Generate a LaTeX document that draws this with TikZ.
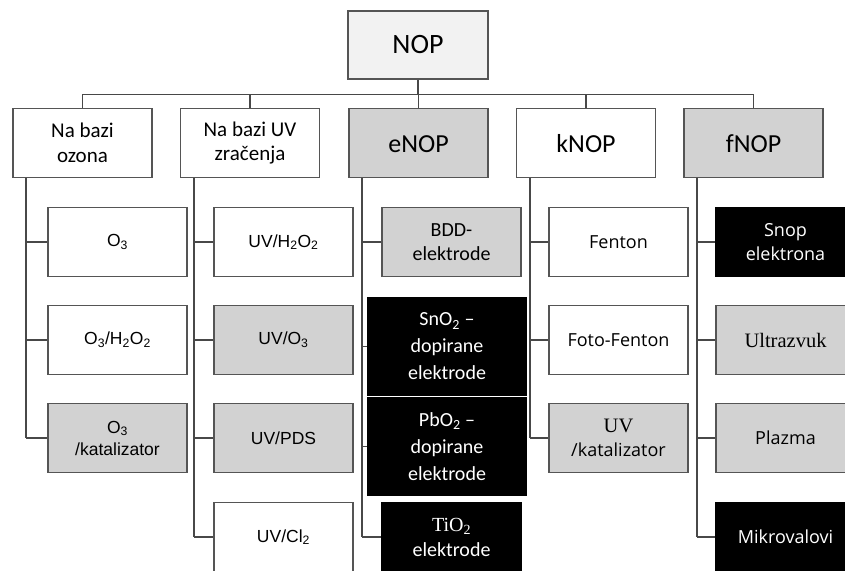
\documentclass[tikz,border=0pt]{standalone}
\usepackage{fontspec}
\setmainfont{Carlito}
\newfontfamily\fcal{Carlito}
\newfontfamily\fars{Liberation Sans}
\newfontfamily\fops{Open Sans}
\newfontfamily\ftms{Liberation Serif}
\definecolor{bord}{HTML}{555555}
\definecolor{lgray}{HTML}{F2F2F2}
\definecolor{mgray}{HTML}{D2D2D2}
\begin{document}
\begin{tikzpicture}[x=1pt,y=-1pt,
  box/.style={draw=bord,line width=1.6pt,minimum width=139pt,minimum height=69pt,inner sep=1pt,align=center,fill=white,text=black},
  gbox/.style={box,fill=mgray},
  bbox/.style={box,fill=black,draw=black,text=white},
  conn/.style={draw=bord!85!black,line width=1.6pt}]
\clip (0,0) rectangle (845,570);
\fill[white] (0,0) rectangle (845,570);
% top
\node[box,fill=lgray,minimum width=140pt,minimum height=68pt,font=\fcal\fontsize{28}{32}\selectfont] (nop) at (418,45) {NOP};
% level 1
\begin{scope}[every node/.append style={font=\fcal\fontsize{21}{24.5}\selectfont}]
\node[box] (a) at (82.5,143) {Na bazi\\ozona};
\node[box] (b) at (250,143) {Na bazi UV\\zračenja};
\end{scope}
\begin{scope}[every node/.append style={font=\fcal\fontsize{26}{30}\selectfont,text height=18pt,text depth=0pt}]
\node[gbox] (c) at (418.5,143) {eNOP};
\node[box] (d) at (586,143) {kNOP};
\node[gbox] (e) at (753.5,143) {fNOP};
\end{scope}
% column 1
\begin{scope}[every node/.append style={font=\fars\fontsize{17.5}{22}\selectfont}]
\node[box] (a1) at (117.5,242) {O\textsubscript{3}};
\node[box] (a2) at (117.5,340) {O\textsubscript{3}/H\textsubscript{2}O\textsubscript{2}};
\node[gbox] (a3) at (117.5,438) {O\textsubscript{3}\\/katalizator};
% column 2
\node[box] (b1) at (283.5,242) {UV/H\textsubscript{2}O\textsubscript{2}};
\node[gbox] (b2) at (283.5,340) {UV/O\textsubscript{3}};
\node[gbox] (b3) at (283.5,438) {UV/PDS};
\node[box] (b4) at (283.5,537) {UV/Cl\textsubscript{2}};
\end{scope}
% column 3
\begin{scope}[every node/.append style={font=\fcal\fontsize{20}{27}\selectfont}]
\node[gbox,font=\fcal\fontsize{20}{23.5}\selectfont] (c1) at (451.5,242) {BDD-\\elektrode};
\node[bbox,minimum width=158pt,minimum height=98pt] (c2) at (447,346.5) {SnO\textsubscript{2} –\\dopirane\\elektrode};
\node[bbox,minimum width=158pt,minimum height=98pt] (c3) at (447,446.5) {PbO\textsubscript{2} –\\dopirane\\elektrode};
\node[bbox,font=\fcal\fontsize{20}{25}\selectfont] (c4) at (451.5,537) {{\ftms TiO\textsubscript{2}}\\elektrode};
\end{scope}
% column 4
\begin{scope}[every node/.append style={font=\fops\fontsize{18}{24}\selectfont}]
\node[box] (d1) at (618.5,242) {Fenton};
\node[box] (d2) at (618.5,340) {Foto-Fenton};
\node[gbox] (d3) at (618.5,438) {{\ftms\fontsize{20.5}{24}\selectfont UV}\\/katalizator};
% column 5
\node[bbox] (e1) at (785.5,242) {Snop\\elektrona};
\node[gbox,font=\ftms\fontsize{20.5}{24}\selectfont] (e2) at (785.5,340) {Ultrazvuk};
\node[gbox] (e3) at (785.5,438) {Plazma};
\node[bbox] (e4) at (785.5,537) {Mikrovalovi};
\end{scope}
% top connectors
\coordinate (h) at (0,94.5);
\draw[conn] (a.north) -- (a.north|-h) -- (e.north|-h) -- (e.north);
\draw[conn] (nop.south) -- (nop.south|-h);
\draw[conn] (b.north) -- (b.north|-h);
\draw[conn] (c.north) -- (c.north|-h);
\draw[conn] (d.north) -- (d.north|-h);
% column connectors
\foreach \p/\last/\kids in {a/a3/{a1,a2,a3}, b/b4/{b1,b2,b3,b4}, c/c4/{c1,c2,c3,c4}, d/d3/{d1,d2,d3}, e/e4/{e1,e2,e3,e4}}{
  \coordinate (\p top) at ([xshift=14pt]\p.south west);
  \draw[conn] (\p top) -- (\p top|-\last.west);
  \foreach \k in \kids { \draw[conn] (\p top|-\k.west) -- (\k.west); }
}
\end{tikzpicture}
\end{document}
